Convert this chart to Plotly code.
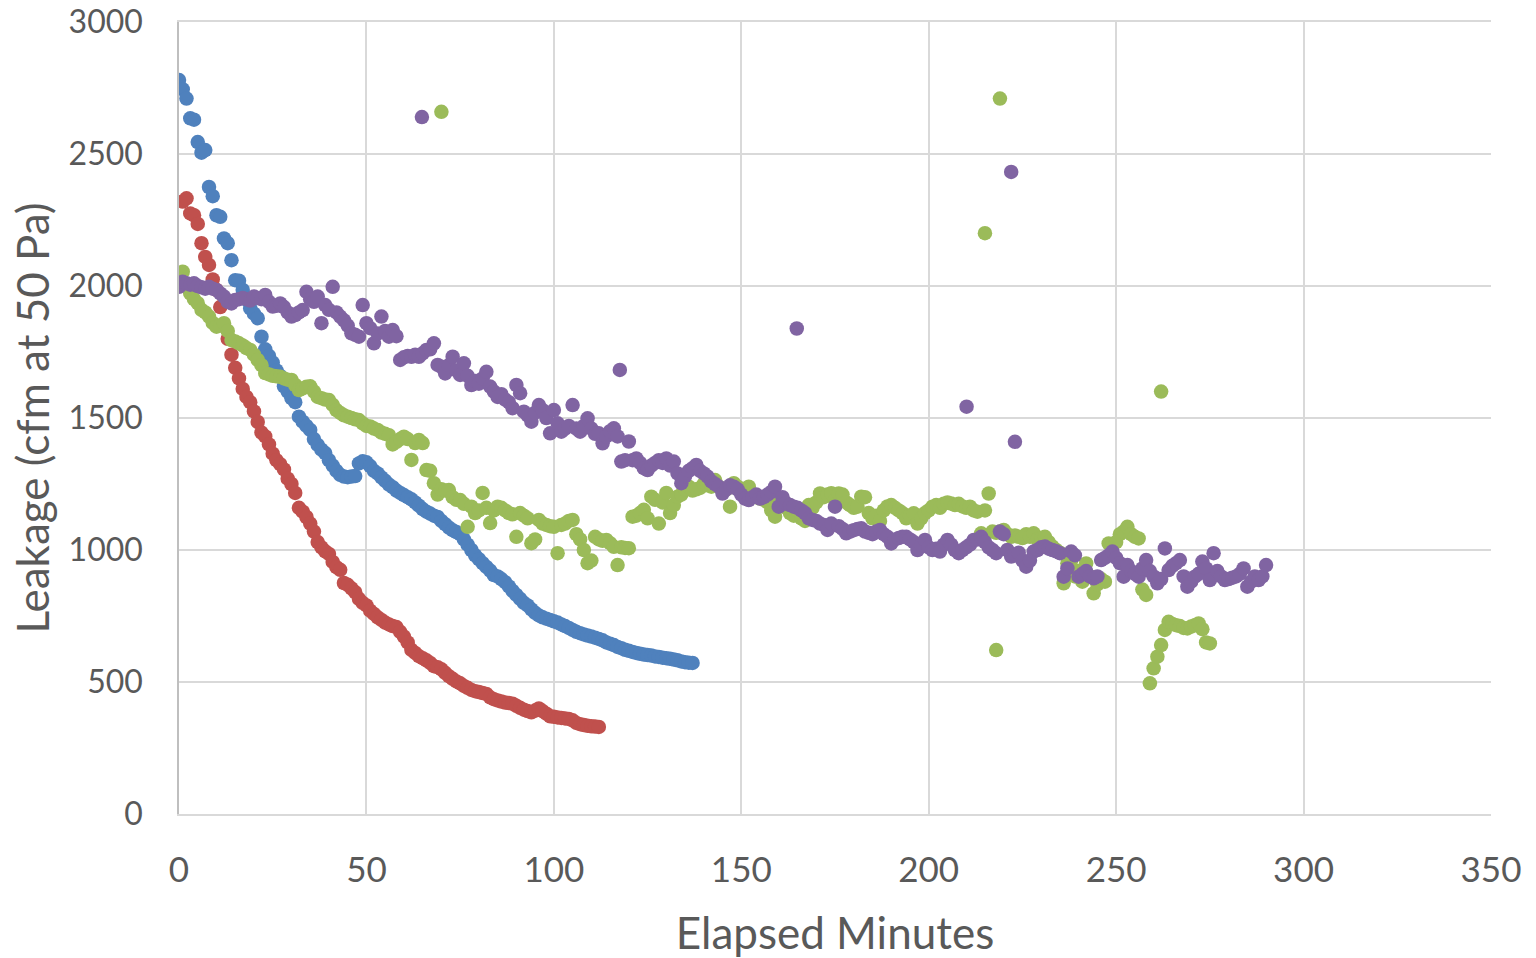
import plotly.graph_objects as go

# ---------------- data ----------------
blue_min = [0, 1, 2, 3, 4, 5, 6, 7, 8, 9, 10, 11, 12, 13, 14, 15, 16, 17, 18, 19,
            20, 21, 22, 23, 24, 25, 26, 27, 28, 29, 30, 31, 32, 33, 34, 35, 36, 37, 38, 39,
            40, 41, 42, 43, 44, 45, 46, 47, 48, 49, 50, 51, 52, 53, 54, 55, 56, 57, 58, 59,
            60, 61, 62, 63, 64, 65, 66, 67, 68, 69, 70, 71, 72, 73, 74, 75, 76, 77, 78, 79,
            80, 81, 82, 83, 84, 85, 86, 87, 88, 89, 90, 91, 92, 93, 94, 95, 96, 97, 98, 99,
            100, 101, 102, 103, 104, 105, 106, 107, 108, 109, 110, 111, 112, 113, 114, 115,
            116, 117, 118, 119, 120, 121, 122, 123, 124, 125, 126, 127, 128, 129, 130, 131,
            132, 133, 134, 135, 136, 137]
blue_cfm = [2780, 2745, 2710, 2635, 2630, 2545, 2505, 2515, 2375, 2340, 2268, 2262, 2180, 2162,
            2098, 2022, 2020, 1985, 1948, 1915, 1895, 1878, 1808, 1760, 1735, 1710, 1680, 1660,
            1620, 1600, 1575, 1560, 1505, 1486, 1470, 1455, 1420, 1398, 1380, 1367, 1340, 1320,
            1300, 1285, 1278, 1276, 1278, 1280, 1328, 1336, 1332, 1318, 1300, 1290, 1275, 1262,
            1248, 1238, 1225, 1216, 1208, 1200, 1192, 1180, 1168, 1155, 1145, 1138, 1130, 1125,
            1110, 1098, 1085, 1075, 1068, 1060, 1040, 1020, 1000, 980, 965, 950, 936, 922, 905,
            900, 890, 878, 862, 845, 830, 815, 800, 790, 775, 762, 752, 745, 740, 735, 730, 725,
            718, 712, 705, 697, 690, 685, 680, 676, 672, 668, 663, 658, 650, 645, 640, 633, 628,
            622, 618, 614, 610, 607, 604, 602, 600, 597, 595, 592, 590, 588, 585, 582, 578, 575,
            573, 572]

red_min = [1, 2, 3, 4, 5, 6, 7, 8, 9, 10, 11, 12, 13, 14, 15, 16, 17, 18, 19, 20,
           21, 22, 23, 24, 25, 26, 27, 28, 29, 30, 31, 32, 33, 34, 35, 36, 37, 38, 39, 40,
           41, 42, 43, 44, 45, 46, 47, 48, 49, 50, 51, 52, 53, 54, 55, 56, 57, 58, 59, 60,
           61, 62, 63, 64, 65, 66, 67, 68, 69, 70, 71, 72, 73, 74, 75, 76, 77, 78, 79, 80,
           81, 82, 83, 84, 85, 86, 87, 88, 89, 90, 91, 92, 93, 94, 95, 96, 97, 98, 99, 100,
           101, 102, 103, 104, 105, 106, 107, 108, 109, 110, 111, 112]
red_cfm = [2320, 2332, 2275, 2268, 2235, 2162, 2110, 2080, 2025, 1985, 1920, 1850, 1800, 1740,
           1690, 1650, 1610, 1580, 1560, 1525, 1485, 1445, 1430, 1400, 1365, 1340, 1325, 1305,
           1270, 1250, 1216, 1160, 1145, 1125, 1100, 1070, 1030, 1010, 995, 985, 955, 935, 925,
           875, 868, 855, 840, 815, 800, 790, 770, 758, 745, 735, 725, 718, 712, 708, 690, 672,
           650, 622, 610, 598, 590, 582, 572, 560, 556, 548, 535, 522, 512, 502, 495, 485, 478,
           470, 465, 462, 458, 455, 442, 435, 430, 426, 422, 420, 418, 410, 402, 395, 390, 385,
           392, 400, 390, 380, 370, 368, 366, 364, 362, 360, 355, 345, 340, 337, 334, 332, 331,
           330]

green_min = [1, 2, 3, 4, 5, 6, 7, 8, 9, 10, 11, 12, 13, 14, 15, 16, 17, 18, 19, 20,
             21, 22, 23, 24, 25, 26, 27, 28, 29, 30, 31, 32, 33, 34, 35, 36, 37, 38, 39, 40,
             41, 42, 43, 44, 45, 46, 47, 48, 49, 50, 51, 52, 53, 54, 55, 56, 57, 58, 59, 60,
             61, 62, 63, 64, 65, 66, 67, 68, 69, 70, 71, 72, 73, 74, 75, 76, 77, 78, 79, 80,
             81, 82, 83, 84, 85, 86, 87, 88, 89, 90, 91, 92, 93, 94, 95, 96, 97, 98, 99, 100,
             101, 102, 103, 104, 105, 106, 107, 108, 109, 110, 111, 112, 113, 114, 115, 116,
             117, 118, 119, 120, 121, 122, 123, 124, 125, 126, 127, 128, 129, 130, 131, 132,
             133, 134, 135, 136, 137, 138, 139, 140, 141, 142, 143, 144, 145, 146, 147, 148,
             149, 150, 151, 152, 153, 154, 155, 156, 157, 158, 159, 160, 161, 162, 163, 164,
             165, 166, 167, 168, 169, 170, 171, 172, 173, 174, 175, 176, 177, 178, 179, 180,
             181, 182, 183, 184, 185, 186, 187, 188, 189, 190, 191, 192, 193, 194, 195, 196,
             197, 198, 199, 200, 201, 202, 203, 204, 205, 206, 207, 208, 209, 210, 211, 212,
             213, 214, 215, 216, 217, 218, 219, 220, 221, 222, 223, 224, 225, 226, 227, 228,
             229, 230, 231, 232, 233, 234, 235, 236, 237, 238, 239, 240, 241, 242, 243, 244,
             245, 246, 247, 248, 249, 250, 251, 252, 253, 254, 255, 256, 257, 258, 259, 260,
             261, 262, 263, 264, 265, 266, 267, 268, 269, 270, 271, 272, 273, 274, 275]
green_cfm = [2054, 1997, 1972, 1950, 1935, 1910, 1900, 1884, 1860, 1846, 1850, 1859, 1830, 1795,
             1790, 1783, 1775, 1765, 1758, 1740, 1720, 1700, 1670, 1665, 1660, 1658, 1656, 1650,
             1645, 1644, 1625, 1606, 1612, 1618, 1620, 1600, 1580, 1575, 1570, 1568, 1550, 1530,
             1519, 1510, 1505, 1500, 1495, 1492, 1480, 1470, 1468, 1460, 1455, 1445, 1440, 1435,
             1400, 1410, 1420, 1429, 1420, 1341, 1405, 1417, 1405, 1303, 1300, 1253, 1210, 1230,
             1225, 1227, 1200, 1190, 1189, 1175, 1088, 1164, 1140, 1150, 1216, 1160, 1102, 1150,
             1164, 1160, 1150, 1140, 1135, 1050, 1140, 1130, 1120, 1026, 1040, 1114, 1100, 1095,
             1090, 1088, 988, 1095, 1100, 1110, 1114, 1060, 1040, 1000, 950, 960, 1050, 1040,
             1035, 1038, 1026, 1012, 943, 1010, 1008, 1007, 1126, 1130, 1140, 1152, 1120, 1202,
             1190, 1100, 1180, 1216, 1140, 1170, 1202, 1210, 1230, 1240, 1225, 1230, 1235, 1250,
             1245, 1240, 1265, 1240, 1225, 1230, 1164, 1253, 1240, 1230, 1220, 1240, 1210, 1200,
             1195, 1190, 1180, 1150, 1126, 1190, 1185, 1160, 1140, 1130, 1150, 1120, 1110, 1170,
             1160, 1180, 1214, 1200, 1210, 1215, 1190, 1214, 1210, 1180, 1170, 1160, 1164, 1202,
             1200, 1140, 1120, 1130, 1110, 1150, 1165, 1170, 1160, 1150, 1140, 1120, 1130, 1139,
             1100, 1120, 1140, 1150, 1164, 1170, 1160, 1175, 1180, 1176, 1170, 1175, 1165, 1160,
             1164, 1150, 1145, 1063, 1150, 1214, 1070, 1065, 1070, 1076, 1060, 1050, 1055, 1050,
             1045, 1060, 1050, 1063, 1040, 1045, 1050, 1030, 1013, 1000, 990, 874, 950, 960, 900,
             920, 880, 949, 900, 836, 870, 890, 880, 1025, 1020, 1030, 1060, 1070, 1088, 1060,
             1050, 1044, 850, 830, 495, 552, 596, 640, 697, 728, 720, 715, 712, 705, 703, 710,
             715, 722, 700, 650, 646]
green_out_min = [70, 215, 219, 218, 262]
green_out_cfm = [2660, 2200, 2710, 621, 1600]

purple_min = [0, 1, 2, 3, 4, 5, 6, 7, 8, 9, 10, 11, 12, 13, 14, 15, 16, 17, 18, 19,
              20, 21, 22, 23, 24, 25, 26, 27, 28, 29, 30, 31, 32, 33, 34, 35, 36, 37, 38, 39,
              40, 41, 42, 43, 44, 45, 46, 47, 48, 49, 50, 51, 52, 53, 54, 55, 56, 57, 58, 59,
              60, 61, 62, 63, 64, 65, 66, 67, 68, 69, 70, 71, 72, 73, 74, 75, 76, 77, 78, 79,
              80, 81, 82, 83, 84, 85, 86, 87, 88, 89, 90, 91, 92, 93, 94, 95, 96, 97, 98, 99,
              100, 101, 102, 103, 104, 105, 106, 107, 108, 109, 110, 111, 112, 113, 114, 115,
              116, 117, 118, 119, 120, 121, 122, 123, 124, 125, 126, 127, 128, 129, 130, 131,
              132, 133, 134, 135, 136, 137, 138, 139, 140, 141, 142, 143, 144, 145, 146, 147,
              148, 149, 150, 151, 152, 153, 154, 155, 156, 157, 158, 159, 160, 161, 162, 163,
              164, 165, 166, 167, 168, 169, 170, 171, 172, 173, 174, 175, 176, 177, 178, 179,
              180, 181, 182, 183, 184, 185, 186, 187, 188, 189, 190, 191, 192, 193, 194, 195,
              196, 197, 198, 199, 200, 201, 202, 203, 204, 205, 206, 207, 208, 209, 210, 211,
              212, 213, 214, 215, 216, 217, 218, 219, 220, 221, 222, 223, 224, 225, 226, 227,
              228, 229, 230, 231, 232, 233, 234, 235, 236, 237, 238, 239, 240, 241, 242, 243,
              244, 245, 246, 247, 248, 249, 250, 251, 252, 253, 254, 255, 256, 257, 258, 259,
              260, 261, 262, 263, 264, 265, 266, 267, 268, 269, 270, 271, 272, 273, 274, 275,
              276, 277, 278, 279, 280, 281, 282, 283, 284, 285, 286, 287, 288, 289, 290]
purple_cfm = [1997, 2016, 2010, 2005, 2010, 2000, 1995, 1990, 1997, 1990, 1985, 1972, 1960, 1940,
              1934, 1947, 1950, 1955, 1950, 1945, 1960, 1955, 1950, 1966, 1940, 1922, 1925, 1934,
              1920, 1900, 1884, 1890, 1900, 1909, 1978, 1950, 1940, 1960, 1859, 1928, 1910, 1997,
              1900, 1884, 1870, 1850, 1821, 1815, 1808, 1928, 1859, 1840, 1783, 1820, 1884, 1830,
              1808, 1833, 1810, 1720, 1730, 1735, 1732, 1740, 1732, 1745, 1758, 1760, 1783, 1701,
              1694, 1669, 1700, 1732, 1680, 1663, 1707, 1660, 1625, 1640, 1630, 1650, 1675, 1619,
              1600, 1580, 1590, 1570, 1560, 1537, 1625, 1594, 1524, 1510, 1486, 1520, 1549, 1530,
              1500, 1442, 1530, 1480, 1448, 1460, 1470, 1549, 1460, 1448, 1470, 1499, 1460, 1440,
              1442, 1404, 1430, 1450, 1461, 1430, 1335, 1340, 1411, 1340, 1347, 1330, 1310, 1303,
              1320, 1330, 1340, 1330, 1347, 1320, 1335, 1290, 1253, 1280, 1300, 1310, 1322, 1300,
              1290, 1278, 1260, 1250, 1240, 1214, 1230, 1245, 1240, 1230, 1210, 1195, 1189, 1200,
              1210, 1195, 1200, 1210, 1220, 1240, 1164, 1200, 1177, 1170, 1164, 1160, 1150, 1140,
              1120, 1114, 1110, 1100, 1095, 1076, 1100, 1164, 1090, 1080, 1063, 1070, 1075, 1080,
              1082, 1070, 1065, 1060, 1070, 1076, 1060, 1050, 1025, 1040, 1045, 1050, 1050, 1040,
              1030, 1000, 1020, 1038, 1010, 1000, 1005, 994, 1020, 1038, 1020, 1000, 988, 1000,
              1010, 1020, 1038, 1040, 1050, 1030, 1010, 1000, 988, 1070, 1060, 1000, 975, 980, 990,
              960, 937, 960, 994, 1000, 1010, 1013, 1005, 1000, 995, 988, 899, 930, 994, 980, 899,
              910, 920, 900, 893, 900, 962, 970, 980, 994, 970, 950, 899, 943, 920, 910, 899, 930,
              962, 920, 900, 874, 890, 1006, 924, 940, 950, 962, 900, 861, 880, 899, 910, 956, 930,
              886, 988, 920, 900, 886, 890, 895, 900, 910, 930, 861, 880, 900, 886, 900, 943]
purple_out_min = [64.8, 117.6, 164.8, 210.1, 222.0, 223.0]
purple_out_cfm = [2640, 1682, 1839, 1543, 2432, 1410]

x_ticks = [0, 50, 100, 150, 200, 250, 300, 350]
y_ticks = [0, 500, 1000, 1500, 2000, 2500, 3000]

# ---------------- figure ----------------
series = [
    ("Blue", blue_min, blue_cfm, "#4f81bd"),
    ("Red", red_min, red_cfm, "#c0504d"),
    ("Green", green_min + green_out_min, green_cfm + green_out_cfm, "#9bbb59"),
    ("Purple", purple_min + purple_out_min, purple_cfm + purple_out_cfm, "#8064a2"),
]

fig = go.Figure()
for name, xs, ys, col in series:
    fig.add_trace(go.Scatter(
        x=xs, y=ys, mode="markers", name=name,
        marker=dict(size=14.5, color=col, line=dict(width=0)),
    ))

grid = "#d9d9d9"
fig.update_layout(
    width=1536, height=958, autosize=False,
    margin=dict(l=179, r=45, t=22, b=144, autoexpand=False),
    paper_bgcolor="white", plot_bgcolor="white",
    showlegend=False,
    font=dict(family="Lato", color="#595959"),
)
fig.update_xaxes(
    range=[0, 350], tickvals=x_ticks, ticktext=[str(v) for v in x_ticks],
    automargin=False,
    showgrid=True, gridcolor=grid, gridwidth=1.5,
    zeroline=False, showline=True, linecolor=grid, linewidth=1.5, mirror=True,
    ticks="", tickfont=dict(family="Lato", size=35, color="#595959"),
    ticklabelstandoff=24,
    title=dict(text="Elapsed Minutes", font=dict(family="Lato", size=44, color="#595959"),
               standoff=30),
)
fig.update_yaxes(
    range=[0, 3000], tickvals=y_ticks, ticktext=[str(v) for v in y_ticks],
    automargin=False,
    showgrid=True, gridcolor=grid, gridwidth=1.5,
    zeroline=False, showline=True, linecolor="#bfbfbf", linewidth=1.5, mirror=False,
    ticks="", tickfont=dict(family="Lato", size=32, color="#595959"),
    ticklabelstandoff=28,
    title=dict(text="Leakage (cfm at 50 Pa)", font=dict(family="Lato", size=44, color="#595959"),
               standoff=5),
)

fig.write_html("out.html")
